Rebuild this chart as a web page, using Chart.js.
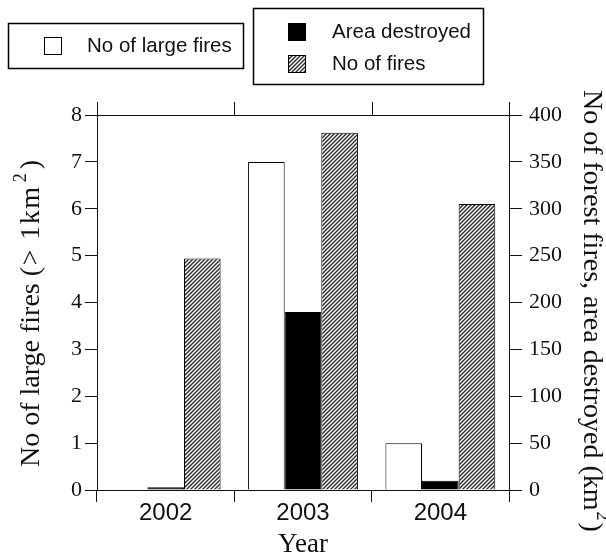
<!DOCTYPE html>
<html>
<head>
<meta charset="utf-8">
<script src="https://cdn.jsdelivr.net/npm/chart.js@4"></script>
<style>
  html, body { margin: 0; padding: 0; background: #fff; }
  #chart { display: block; }
</style>
</head>
<body>
<canvas id="chart" width="606" height="554"></canvas>
<script>
/* ── DATA ── */
const years         = ['2002', '2003', '2004'];
const largeFires    = [0, 7, 1];          // left axis
const areaDestroyed = [3, 190, 10];       // right axis (km²)
const numFires      = [247, 381, 305];    // right axis

const leftTicks  = { min: 0, max: 8,   step: 1 };
const rightTicks = { min: 0, max: 400, step: 50 };

const SERIF = "'Liberation Serif', 'Times New Roman', serif";
const SANS  = "'Liberation Sans', Arial, sans-serif";
const INK   = '#111';

/* ── HATCH PATTERN ── */
function hatch() {
  const c = document.createElement('canvas');
  c.width = 4; c.height = 4;
  const g = c.getContext('2d');
  g.fillStyle = '#fff';
  g.fillRect(0, 0, 4, 4);
  g.strokeStyle = '#2a2a2a';
  g.lineWidth = 1.4;
  g.beginPath();
  g.moveTo(-1, 5); g.lineTo(5, -1);
  g.moveTo(-3, 3); g.lineTo(3, -3);
  g.moveTo(1, 7);  g.lineTo(7, 1);
  g.stroke();
  return g.createPattern(c, 'repeat');
}
const hatchFill = hatch();

/* rotated title: [text, spacing] pieces, then superscript "2" and the closing paren */
function rotTitle(ctx, x, y, angle, pieces, sup, tail, gap) {
  ctx.save();
  ctx.translate(x, y);
  ctx.rotate(angle);
  ctx.fillStyle = INK;
  ctx.textAlign = 'left';
  ctx.textBaseline = 'middle';
  ctx.font = '28px ' + SERIF;
  let adv = 0;
  pieces.forEach(([t, sp]) => {
    ctx.letterSpacing = sp + 'px';
    ctx.fillText(t, adv, 0);
    adv += ctx.measureText(t).width;
  });
  ctx.letterSpacing = '0px';
  adv += gap;
  ctx.font = '18px ' + SERIF;
  ctx.fillText(sup, adv, -11);
  adv += ctx.measureText(sup).width + gap + 1;
  ctx.font = '28px ' + SERIF;
  ctx.fillText(tail, adv, 0);
  ctx.restore();
}

/* ── FRAME, TOP TICKS, AXIS TITLES, LEGENDS ── */
const decor = {
  id: 'decor',
  afterDraw(chart) {
    const { ctx, chartArea: a, scales: { x } } = chart;
    ctx.save();
    ctx.strokeStyle = INK;
    ctx.lineWidth = 1;
    ctx.beginPath();
    ctx.moveTo(a.left, a.top + 0.5);
    ctx.lineTo(a.right, a.top + 0.5);
    for (let i = 0; i <= years.length; i++) {
      const px = Math.round(x.getPixelForValue(i - 0.5)) + 0.5;
      ctx.moveTo(px, a.top);
      ctx.lineTo(px, a.top - 13);
    }
    ctx.stroke();

    // axis titles
    rotTitle(ctx, 32, 467, -Math.PI / 2,
      [['No of large fires ', 0], ['(> 1km', 1.5]], '2', ')', 3);
    rotTitle(ctx, 591, 90, Math.PI / 2,
      [['No of forest fires, area destroyed (km', 0]], '2', ')', 1);

    // legends
    const ds = chart.data.datasets;
    ctx.lineWidth = 1.5;
    ctx.strokeStyle = '#000';
    ctx.strokeRect(8.5, 23.5, 235, 45);
    ctx.strokeRect(253.5, 8.5, 230, 76);

    const swatch = (x0, y0, fill) => {
      ctx.fillStyle = fill;
      ctx.fillRect(x0, y0, 18, 18);
      ctx.lineWidth = 1;
      ctx.strokeRect(x0 + 0.5, y0 + 0.5, 17, 17);
    };
    swatch(44, 37, '#fff');
    swatch(288, 23, '#000');
    swatch(288, 55, hatchFill);

    ctx.font = '20.5px ' + SANS;
    ctx.fillStyle = INK;
    ctx.textAlign = 'left';
    ctx.textBaseline = 'middle';
    ctx.fillText(ds[0].label, 87, 46);
    ctx.fillText(ds[1].label, 332, 32);
    ctx.fillText(ds[2].label, 332, 64);
    ctx.restore();
  }
};

/* ── CHART ── */
new Chart(document.getElementById('chart'), {
  type: 'bar',
  data: {
    labels: years,
    datasets: [
      { label: 'No of large fires', data: largeFires,    yAxisID: 'y',
        backgroundColor: '#fff',    borderColor: '#000', borderWidth: 1 },
      { label: 'Area destroyed',    data: areaDestroyed, yAxisID: 'y1',
        backgroundColor: '#000',    borderColor: '#000', borderWidth: 1 },
      { label: 'No of fires',       data: numFires,      yAxisID: 'y1',
        backgroundColor: hatchFill, borderColor: '#000', borderWidth: 1 }
    ]
  },
  options: {
    responsive: false,
    animation: false,
    devicePixelRatio: 1,
    categoryPercentage: 0.8,
    barPercentage: 1.0,
    layout: { padding: { top: 115, left: 0, right: 0, bottom: 0 } },
    plugins: { legend: { display: false }, tooltip: { enabled: false } },
    scales: {
      x: {
        offset: true,
        grid: { offset: true, drawOnChartArea: false, tickLength: 12, color: INK },
        border: { color: INK },
        ticks: { color: INK, font: { family: SANS, size: 24 }, padding: -3 },
        title: { display: true, text: 'Year', color: INK,
                 font: { family: SERIF, size: 27, lineHeight: 1 },
                 padding: { top: 0, bottom: -4 } },
        afterFit(s) { s.height = 64; }
      },
      y: {
        position: 'left',
        min: leftTicks.min, max: leftTicks.max,
        ticks: { stepSize: leftTicks.step, color: INK, padding: 3,
                 font: { family: SERIF, size: 22 } },
        grid: { drawOnChartArea: false, tickLength: 12, color: INK },
        border: { color: INK },
        afterFit(s) { s.width = 97; }
      },
      y1: {
        position: 'right',
        min: rightTicks.min, max: rightTicks.max,
        ticks: { stepSize: rightTicks.step, color: INK, padding: 7,
                 font: { family: SERIF, size: 22 } },
        grid: { drawOnChartArea: false, tickLength: 13, color: INK },
        border: { color: INK },
        afterFit(s) { s.width = 97; }
      }
    }
  },
  plugins: [decor]
});
</script>
</body>
</html>
